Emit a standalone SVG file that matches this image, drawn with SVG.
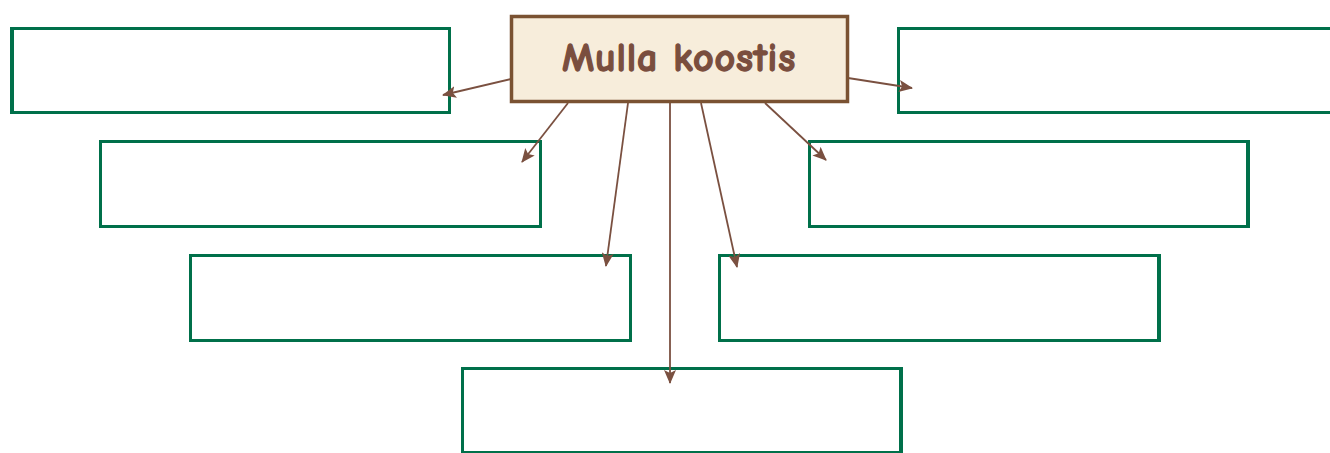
<svg xmlns="http://www.w3.org/2000/svg" width="1330" height="453" viewBox="0 0 1330 453">
<style>
.box{fill:#ffffff;stroke:#00704a;stroke-width:3}
.main{fill:#f7eddb;stroke:#7a5232;stroke-width:3.5}
.lbl{font-family:"Comic Neue","DejaVu Sans",sans-serif;font-weight:bold;font-size:40px;letter-spacing:0.8px;fill:#7a4e3e;stroke:#7a4e3e;stroke-width:1.3;text-anchor:middle}
.c{stroke:#7a5040;stroke-width:1.8;fill:none;marker-end:url(#ah)}
</style>
<defs>
<marker id="ah" viewBox="0 0 14 12" refX="13" refY="6" markerWidth="14" markerHeight="12" markerUnits="userSpaceOnUse" orient="auto">
<path d="M0,0 L14,6 L0,12 L3,6 Z" fill="#7a5040"/>
</marker>
</defs>
<rect width="1330" height="453" fill="#ffffff"/>
<g id="n1"><rect class="box" x="11.5" y="28.5" width="438" height="84"/><line x1="12" y1="28" x2="12" y2="113" stroke="#00704a" stroke-width="4"/></g>
<g id="n2"><rect class="box" x="898.5" y="28.5" width="440" height="84"/></g>
<g id="n3"><rect class="box" x="100.5" y="141.5" width="440" height="85"/></g>
<g id="n4"><rect class="box" x="809.5" y="141.5" width="439" height="85"/><line x1="1248" y1="141" x2="1248" y2="227" stroke="#00704a" stroke-width="4"/></g>
<g id="n5"><rect class="box" x="190.5" y="255.5" width="440" height="85"/></g>
<g id="n6"><rect class="box" x="719.5" y="255.5" width="440" height="85"/><line x1="1159" y1="255" x2="1159" y2="341" stroke="#00704a" stroke-width="4"/></g>
<g id="n7"><rect class="box" x="462.5" y="368.5" width="439" height="84"/><line x1="901" y1="368" x2="901" y2="453" stroke="#00704a" stroke-width="4"/></g>
<g id="connectors">
<line class="c" x1="511" y1="79" x2="443" y2="95"/>
<line class="c" x1="568" y1="103" x2="522" y2="162"/>
<line class="c" x1="628" y1="103" x2="606" y2="266"/>
<line class="c" x1="670" y1="103" x2="670" y2="383"/>
<line class="c" x1="701" y1="103" x2="737" y2="267"/>
<line class="c" x1="765" y1="103" x2="826" y2="160"/>
<line class="c" x1="848" y1="78" x2="912" y2="88"/>
</g>
<g id="main"><rect class="main" x="511.5" y="16.5" width="336" height="85"/><text class="lbl" x="679" y="71">Mulla koostis</text></g>
</svg>
